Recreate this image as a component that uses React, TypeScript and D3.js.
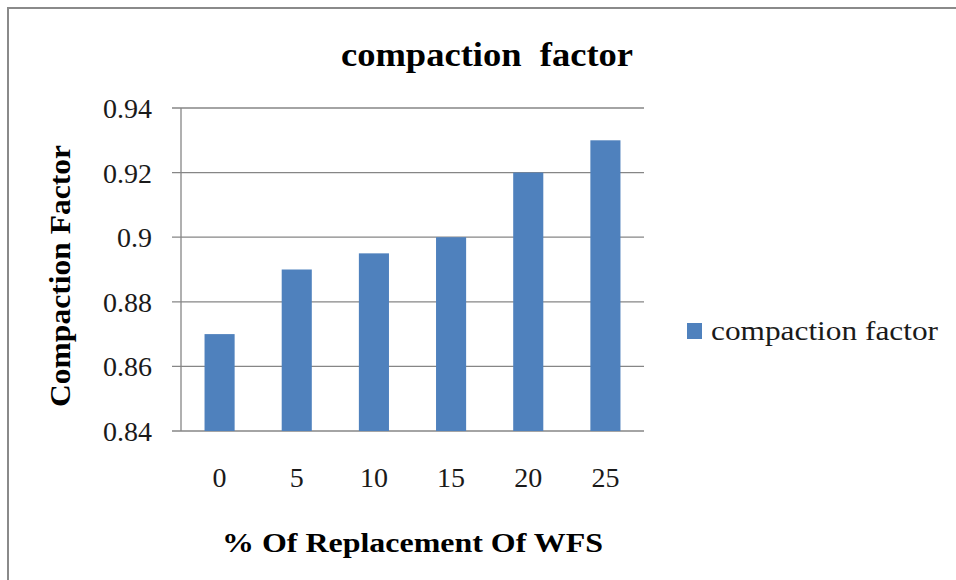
import * as d3 from "d3"
import { useEffect, useRef } from "react"

const categories = ["0", "5", "10", "15", "20", "25"]
const values = [0.87, 0.89, 0.895, 0.9, 0.92, 0.93]
const yTicks = [0.84, 0.86, 0.88, 0.9, 0.92, 0.94]
const seriesName = "compaction factor"

const WIDTH = 956
const HEIGHT = 580
const FONT = "'Liberation Serif', 'Times New Roman', serif"

const App = () => {
  const svgRef = useRef<SVGSVGElement>(null)

  useEffect(() => {
    if (!svgRef.current) return
    d3.select(svgRef.current).selectAll("*").remove()

    const MARGIN = { top: 108, right: 312, bottom: 149, left: 181 }
    const svg = d3.select(svgRef.current).attr("width", WIDTH).attr("height", HEIGHT)

    // outer frame (only top and left edges show)
    svg
      .append("rect")
      .attr("x", 8)
      .attr("y", 8)
      .attr("width", WIDTH + 20)
      .attr("height", HEIGHT + 20)
      .attr("fill", "#fff")
      .attr("stroke", "#8a8a8a")
      .attr("stroke-width", 2)

    const xScale = d3
      .scaleBand()
      .domain(categories)
      .range([MARGIN.left, WIDTH - MARGIN.right])
      .paddingInner(0.61)
      .paddingOuter(0.305)

    const yScale = d3
      .scaleLinear()
      .domain([0.84, 0.94])
      .range([HEIGHT - MARGIN.bottom, MARGIN.top])

    // gridlines + tick marks
    svg
      .append("g")
      .selectAll("line")
      .data(yTicks)
      .join("line")
      .attr("x1", MARGIN.left - 9)
      .attr("x2", WIDTH - MARGIN.right)
      .attr("y1", (d) => yScale(d))
      .attr("y2", (d) => yScale(d))
      .attr("stroke", "#868686")
      .attr("stroke-width", 1.3)

    // y axis line
    svg
      .append("line")
      .attr("x1", MARGIN.left)
      .attr("x2", MARGIN.left)
      .attr("y1", yScale(0.94))
      .attr("y2", yScale(0.84))
      .attr("stroke", "#868686")
      .attr("stroke-width", 1.3)

    // y tick labels
    svg
      .append("g")
      .selectAll("text")
      .data(yTicks)
      .join("text")
      .attr("x", 152)
      .attr("y", (d) => yScale(d) + 10)
      .attr("text-anchor", "end")
      .attr("font-family", FONT)
      .attr("font-size", "28px")
      .attr("fill", "#1a1a1a")
      .text((d) => d3.format("")(+d.toFixed(2)))

    // bars
    svg
      .append("g")
      .selectAll("rect")
      .data(values)
      .join("rect")
      .attr("x", (_, i) => xScale(categories[i]) ?? 0)
      .attr("y", (d) => yScale(d))
      .attr("width", xScale.bandwidth())
      .attr("height", (d) => yScale(0.84) - yScale(d))
      .attr("fill", "#4f81bd")

    // x tick labels
    svg
      .append("g")
      .selectAll("text")
      .data(categories)
      .join("text")
      .attr("x", (d) => (xScale(d) ?? 0) + xScale.bandwidth() / 2)
      .attr("y", 487)
      .attr("text-anchor", "middle")
      .attr("font-family", FONT)
      .attr("font-size", "28px")
      .attr("fill", "#1a1a1a")
      .text((d) => d)

    // title
    svg
      .append("text")
      .attr("x", 341)
      .attr("y", 66)
      .attr("font-family", FONT)
      .attr("font-weight", "bold")
      .attr("font-size", "34px")
      .attr("textLength", 292)
      .attr("lengthAdjust", "spacingAndGlyphs")
      .style("white-space", "pre")
      .text("compaction  factor")

    // y axis title
    svg
      .append("text")
      .attr("transform", "translate(70, 407) rotate(-90)")
      .attr("font-family", FONT)
      .attr("font-weight", "bold")
      .attr("font-size", "29px")
      .attr("textLength", 262)
      .attr("lengthAdjust", "spacingAndGlyphs")
      .text("Compaction Factor")

    // x axis title
    svg
      .append("text")
      .attr("x", 222)
      .attr("y", 552)
      .attr("font-family", FONT)
      .attr("font-weight", "bold")
      .attr("font-size", "28px")
      .attr("textLength", 381)
      .attr("lengthAdjust", "spacingAndGlyphs")
      .text("% Of Replacement Of WFS")

    // legend
    svg
      .append("rect")
      .attr("x", 687)
      .attr("y", 323)
      .attr("width", 15)
      .attr("height", 16)
      .attr("fill", "#4f81bd")
    svg
      .append("text")
      .attr("x", 711)
      .attr("y", 340)
      .attr("font-family", FONT)
      .attr("font-size", "28px")
      .attr("fill", "#1a1a1a")
      .attr("textLength", 227)
      .attr("lengthAdjust", "spacingAndGlyphs")
      .text(seriesName)
  }, [])

  return (
    <div style={{ position: "absolute", left: 0, top: 0, width: WIDTH, height: HEIGHT, overflow: "hidden" }}>
      <svg ref={svgRef} style={{ display: "block" }} />
    </div>
  )
}

export default App
